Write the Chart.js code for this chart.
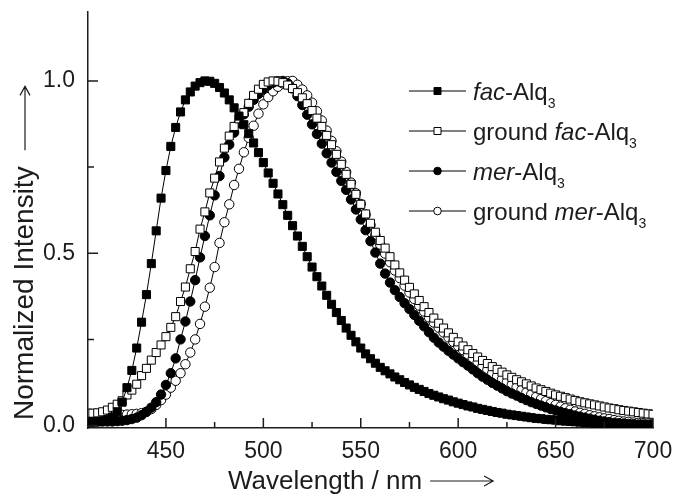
<!DOCTYPE html>
<html>
<head>
<meta charset="utf-8">
<script src="https://cdn.jsdelivr.net/npm/chart.js@4.4.1/dist/chart.umd.min.js"></script>
<style>
  html, body { margin: 0; padding: 0; background: #fff; }
</style>
</head>
<body>
<canvas id="spectra" width="676" height="496"></canvas>
<script>
// emission wavelength (nm)
const wavelength = [
    410, 412.5, 415, 417.5, 420, 422.5, 425, 427.5, 430, 432.5,
    435, 437.5, 440, 442.5, 445, 447.5, 450, 452.5, 455, 457.5,
    460, 462.5, 465, 467.5, 470, 472.5, 475, 477.5, 480, 482.5,
    485, 487.5, 490, 492.5, 495, 497.5, 500, 502.5, 505, 507.5,
    510, 512.5, 515, 517.5, 520, 522.5, 525, 527.5, 530, 532.5,
    535, 537.5, 540, 542.5, 545, 547.5, 550, 552.5, 555, 557.5,
    560, 562.5, 565, 567.5, 570, 572.5, 575, 577.5, 580, 582.5,
    585, 587.5, 590, 592.5, 595, 597.5, 600, 602.5, 605, 607.5,
    610, 612.5, 615, 617.5, 620, 622.5, 625, 627.5, 630, 632.5,
    635, 637.5, 640, 642.5, 645, 647.5, 650, 652.5, 655, 657.5,
    660, 662.5, 665, 667.5, 670, 672.5, 675, 677.5, 680, 682.5,
    685, 687.5, 690, 692.5, 695, 697.5, 700
];

const facAlq3 = [
    0.010, 0.010, 0.011, 0.013, 0.017, 0.025, 0.040, 0.068, 0.110, 0.160,
    0.225, 0.300, 0.380, 0.470, 0.565, 0.660, 0.740, 0.810, 0.865, 0.910,
    0.945, 0.968, 0.985, 0.995, 1.000, 0.999, 0.993, 0.981, 0.965, 0.945,
    0.922, 0.898, 0.873, 0.847, 0.820, 0.792, 0.763, 0.733, 0.703, 0.672,
    0.641, 0.610, 0.580, 0.550, 0.520, 0.490, 0.460, 0.432, 0.405, 0.378,
    0.352, 0.328, 0.305, 0.283, 0.262, 0.243, 0.225, 0.208, 0.194, 0.181,
    0.169, 0.159, 0.150, 0.141, 0.133, 0.125, 0.118, 0.111, 0.105, 0.099,
    0.093, 0.088, 0.083, 0.078, 0.074, 0.069, 0.065, 0.061, 0.057, 0.054,
    0.050, 0.047, 0.044, 0.041, 0.038, 0.036, 0.033, 0.031, 0.029, 0.027,
    0.025, 0.023, 0.021, 0.020, 0.018, 0.017, 0.016, 0.014, 0.013, 0.012,
    0.011, 0.010, 0.009, 0.008, 0.007, 0.006, 0.005, 0.004, 0.004, 0.003,
    0.003, 0.002, 0.002, 0.002, 0.001, 0.001, 0.001
];

const groundFacAlq3 = [
    0.036, 0.036, 0.037, 0.040, 0.045, 0.053, 0.062, 0.072, 0.089, 0.103,
    0.120, 0.145, 0.166, 0.190, 0.212, 0.234, 0.258, 0.285, 0.316, 0.360,
    0.402, 0.455, 0.505, 0.570, 0.620, 0.675, 0.718, 0.765, 0.805, 0.840,
    0.868, 0.890, 0.908, 0.935, 0.958, 0.976, 0.990, 0.997, 1.000, 0.999,
    0.995, 0.988, 0.978, 0.966, 0.951, 0.934, 0.914, 0.892, 0.868, 0.842,
    0.815, 0.787, 0.758, 0.729, 0.700, 0.671, 0.642, 0.614, 0.587, 0.561,
    0.537, 0.515, 0.490, 0.466, 0.443, 0.422, 0.401, 0.382, 0.363, 0.345,
    0.328, 0.312, 0.297, 0.283, 0.269, 0.256, 0.243, 0.231, 0.220, 0.209,
    0.199, 0.189, 0.180, 0.171, 0.163, 0.155, 0.147, 0.140, 0.133, 0.127,
    0.121, 0.115, 0.109, 0.104, 0.099, 0.094, 0.089, 0.085, 0.081, 0.077,
    0.073, 0.069, 0.066, 0.063, 0.060, 0.057, 0.054, 0.051, 0.049, 0.046,
    0.044, 0.042, 0.040, 0.038, 0.036, 0.034, 0.033
];

const merAlq3 = [
    0.012, 0.012, 0.012, 0.012, 0.012, 0.012, 0.013, 0.014, 0.016, 0.019,
    0.023, 0.030, 0.040, 0.052, 0.068, 0.090, 0.118, 0.152, 0.195, 0.250,
    0.302, 0.360, 0.422, 0.488, 0.550, 0.610, 0.668, 0.724, 0.778, 0.815,
    0.850, 0.878, 0.903, 0.925, 0.945, 0.962, 0.976, 0.987, 0.995, 0.999,
    1.000, 0.993, 0.978, 0.956, 0.930, 0.902, 0.874, 0.846, 0.818, 0.790,
    0.763, 0.736, 0.710, 0.684, 0.656, 0.627, 0.598, 0.567, 0.535, 0.502,
    0.470, 0.441, 0.415, 0.393, 0.373, 0.355, 0.338, 0.321, 0.304, 0.288,
    0.271, 0.255, 0.241, 0.229, 0.217, 0.206, 0.195, 0.184, 0.174, 0.163,
    0.152, 0.142, 0.133, 0.124, 0.116, 0.108, 0.100, 0.093, 0.087, 0.080,
    0.074, 0.068, 0.063, 0.058, 0.053, 0.048, 0.044, 0.040, 0.036, 0.033,
    0.029, 0.026, 0.023, 0.020, 0.017, 0.014, 0.012, 0.010, 0.008, 0.007,
    0.006, 0.005, 0.004, 0.003, 0.003, 0.002, 0.002
];

const groundMerAlq3 = [
    0.030, 0.030, 0.030, 0.030, 0.030, 0.030, 0.030, 0.031, 0.032, 0.033,
    0.034, 0.036, 0.040, 0.048, 0.060, 0.074, 0.090, 0.110, 0.130, 0.152,
    0.178, 0.212, 0.250, 0.295, 0.345, 0.400, 0.460, 0.530, 0.590, 0.642,
    0.698, 0.745, 0.793, 0.835, 0.870, 0.905, 0.932, 0.953, 0.970, 0.983,
    0.993, 0.999, 1.000, 0.989, 0.975, 0.958, 0.937, 0.912, 0.885, 0.856,
    0.826, 0.796, 0.766, 0.736, 0.705, 0.674, 0.643, 0.612, 0.582, 0.553,
    0.525, 0.499, 0.474, 0.450, 0.428, 0.406, 0.386, 0.367, 0.348, 0.331,
    0.314, 0.299, 0.284, 0.270, 0.256, 0.243, 0.231, 0.219, 0.206, 0.194,
    0.183, 0.172, 0.162, 0.152, 0.143, 0.134, 0.126, 0.118, 0.111, 0.103,
    0.096, 0.090, 0.083, 0.077, 0.071, 0.065, 0.060, 0.055, 0.050, 0.046,
    0.041, 0.037, 0.034, 0.030, 0.027, 0.024, 0.021, 0.019, 0.016, 0.014,
    0.012, 0.011, 0.009, 0.008, 0.007, 0.006, 0.005
];

const xTicks = [450, 500, 550, 600, 650, 700];
const xMinorTicks = [475, 525, 575, 625, 675];
const yTicks = [0, 0.5, 1.0];
const yMinorTicks = [0.25, 0.75];

// legend labels: italic part, plain part, subscript
const seriesLabels = [
    [{ t: 'fac', i: true }, { t: '-Alq' }, { t: '3', sub: true }],
    [{ t: 'ground ' }, { t: 'fac', i: true }, { t: '-Alq' }, { t: '3', sub: true }],
    [{ t: 'mer', i: true }, { t: '-Alq' }, { t: '3', sub: true }],
    [{ t: 'ground ' }, { t: 'mer', i: true }, { t: '-Alq' }, { t: '3', sub: true }]
];
const xTitle = 'Wavelength / nm';
const yTitle = 'Normalized Intensity';

const FONT = '"Liberation Sans", Arial, sans-serif';
const INK = '#1c1c1c';

function toPoints(values) {
    return wavelength.map((w, i) => ({ x: w, y: values[i] }));
}

function arrow(ctx, x1, y, x2) {
    ctx.beginPath();
    ctx.moveTo(x1, y);
    ctx.lineTo(x2, y);
    ctx.moveTo(x2 - 9, y - 5);
    ctx.lineTo(x2, y);
    ctx.lineTo(x2 - 9, y + 5);
    ctx.stroke();
}

function richText(ctx, parts, x, y, size) {
    parts.forEach(p => {
        const fs = p.sub ? 14 : size;
        ctx.font = (p.i ? 'italic ' : '') + fs + 'px ' + FONT;
        ctx.fillText(p.t, x, p.sub ? y + 8 : y);
        x += ctx.measureText(p.t).width;
    });
}

const decorations = {
    id: 'decorations',
    afterDraw(chart) {
        const ctx = chart.ctx;
        const xs = chart.scales.x;
        const ys = chart.scales.y;
        const area = chart.chartArea;
        ctx.save();
        ctx.strokeStyle = INK;
        ctx.fillStyle = INK;
        ctx.lineWidth = 1.5;

        // inward tick marks
        ctx.beginPath();
        xTicks.forEach(v => {
            const p = xs.getPixelForValue(v);
            ctx.moveTo(p, area.bottom);
            ctx.lineTo(p, area.bottom - 10);
        });
        xMinorTicks.forEach(v => {
            const p = xs.getPixelForValue(v);
            ctx.moveTo(p, area.bottom);
            ctx.lineTo(p, area.bottom - 6);
        });
        yTicks.forEach(v => {
            const p = ys.getPixelForValue(v);
            ctx.moveTo(area.left, p);
            ctx.lineTo(area.left + 10, p);
        });
        yMinorTicks.forEach(v => {
            const p = ys.getPixelForValue(v);
            ctx.moveTo(area.left, p);
            ctx.lineTo(area.left + 6, p);
        });
        ctx.stroke();

        // axis titles with arrows
        ctx.lineWidth = 1.2;
        ctx.textBaseline = 'alphabetic';
        ctx.textAlign = 'left';
        ctx.font = '26px ' + FONT;
        const xw = ctx.measureText(xTitle).width;
        ctx.fillText(xTitle, 228, 489);
        arrow(ctx, 228 + xw + 8, 481, 228 + xw + 71);

        ctx.save();
        ctx.translate(33, 420);
        ctx.rotate(-Math.PI / 2);
        ctx.font = '28px ' + FONT;
        const yw = ctx.measureText(yTitle).width;
        ctx.fillText(yTitle, 0, 0);
        arrow(ctx, yw + 16, -8, yw + 80);
        ctx.restore();

        // legend
        chart.data.datasets.forEach((ds, i) => {
            const cy = 91 + i * 40;
            ctx.lineWidth = 1;
            ctx.strokeStyle = '#000';
            ctx.beginPath();
            ctx.moveTo(409, cy);
            ctx.lineTo(466, cy);
            ctx.stroke();
            ctx.fillStyle = ds.pointBackgroundColor;
            ctx.beginPath();
            if (ds.pointStyle === 'rect') {
                ctx.rect(434, cy - 3.5, 7, 7);
            } else {
                ctx.arc(437.5, cy, 3.8, 0, Math.PI * 2);
            }
            ctx.fill();
            ctx.stroke();
            ctx.fillStyle = INK;
            richText(ctx, seriesLabels[i], 473, cy + 8.5, 24);
        });
        ctx.restore();
    }
};

function series(values, style, fill) {
    return {
        data: toPoints(values),
        borderColor: '#000',
        borderWidth: 1,
        pointStyle: style,
        pointRadius: style === 'rect' ? 5.7 : 4.7,
        pointBorderWidth: 1,
        pointBorderColor: '#000',
        pointBackgroundColor: fill,
        tension: 0
    };
}

const fixScale = (w, h) => scale => {
    if (w) scale.width = w;
    if (h) scale.height = h;
    scale.paddingTop = 0;
    scale.paddingBottom = 0;
    scale.paddingLeft = 0;
    scale.paddingRight = 0;
};

const chart = new Chart(document.getElementById('spectra'), {
    type: 'line',
    data: {
        datasets: [
            series(facAlq3, 'rect', '#000'),
            series(groundFacAlq3, 'rect', '#fff'),
            series(merAlq3, 'circle', '#000'),
            series(groundMerAlq3, 'circle', '#fff')
        ]
    },
    options: {
        responsive: false,
        animation: false,
        events: [],
        layout: { padding: { top: 12, right: 23, left: 0, bottom: 0 } },
        plugins: {
            legend: { display: false },
            tooltip: { enabled: false }
        },
        scales: {
            x: {
                type: 'linear',
                min: 410,
                max: 700,
                afterBuildTicks: s => { s.ticks = xTicks.map(v => ({ value: v })); },
                afterFit: fixScale(null, 68),
                grid: { display: false, drawTicks: false },
                border: { display: true, color: INK, width: 1.5 },
                ticks: {
                    padding: 10,
                    color: INK,
                    font: { family: FONT, size: 23 },
                    maxRotation: 0,
                    callback: v => String(v)
                }
            },
            y: {
                min: -0.007,
                max: 1.2,
                afterBuildTicks: s => { s.ticks = yTicks.map(v => ({ value: v })); },
                afterFit: fixScale(88, null),
                grid: { display: false, drawTicks: false },
                border: { display: true, color: INK, width: 1.5 },
                ticks: {
                    padding: 13,
                    color: INK,
                    font: { family: FONT, size: 23 },
                    callback: v => v.toFixed(1)
                }
            }
        }
    },
    plugins: [decorations]
});
</script>
</body>
</html>
